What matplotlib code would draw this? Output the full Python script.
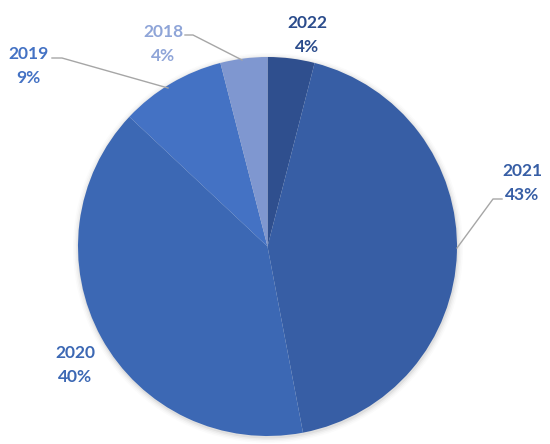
import matplotlib
matplotlib.use("Agg")
import matplotlib.pyplot as plt
from matplotlib.patches import Circle

years = ["2022", "2021", "2020", "2019", "2018"]
shares = [4, 43, 40, 9, 4]
colors = ["#2F4F8E", "#375EA5", "#3C68B4", "#4472C4", "#7F97D0"]
text_colors = ["#2B4C8C", "#375EA5", "#3C68B4", "#4472C4", "#8FA5D8"]

W, H = 550, 444
fig = plt.figure(figsize=(W / 100, H / 100), dpi=100)
ax = fig.add_axes([0, 0, 1, 1])

cx, cy, r = 267.5, 246.5, 189.5

# soft shadow around the pie
for i, a in enumerate([0.05, 0.035, 0.025, 0.015]):
    ax.add_patch(Circle((cx + 0.5, cy + 1.5), r + 1 + i * 1.5, color="black",
                        alpha=a, lw=0, zorder=0))

# y axis points down (pixel coords): start at visual top and go visually clockwise
ax.pie(shares, colors=colors, startangle=270, counterclock=True,
       radius=r, center=(cx, cy), frame=True,
       wedgeprops=dict(linewidth=0, zorder=1))
ax.set_xlim(0, W)
ax.set_ylim(H, 0)
ax.set_aspect("equal")
ax.axis("off")

# label centre x, baseline of first line
label_pos = [(307, 27.5), (522, 176), (75, 358), (28.5, 59.3), (163, 36.7)]
for yr, s, tc, (x, y) in zip(years, shares, text_colors, label_pos):
    ax.text(x, y, yr, ha="center", va="baseline", color=tc,
            fontsize=12.5, fontweight="bold", family="Lato")
    ax.text(x, y + 24, f"{s}%", ha="center", va="baseline", color=tc,
            fontsize=12.5, fontweight="bold", family="Lato")

line_c = "#A6A6A6"
leaders = [
    [(502, 199), (493, 199), (457, 248)],
    [(52, 58), (62, 58), (168, 88)],
    [(185, 35), (193, 35), (242, 60)],
]
for pts in leaders:
    xs, ys = zip(*pts)
    ax.plot(xs, ys, color=line_c, lw=1)

fig.savefig("out.png", dpi=100)
